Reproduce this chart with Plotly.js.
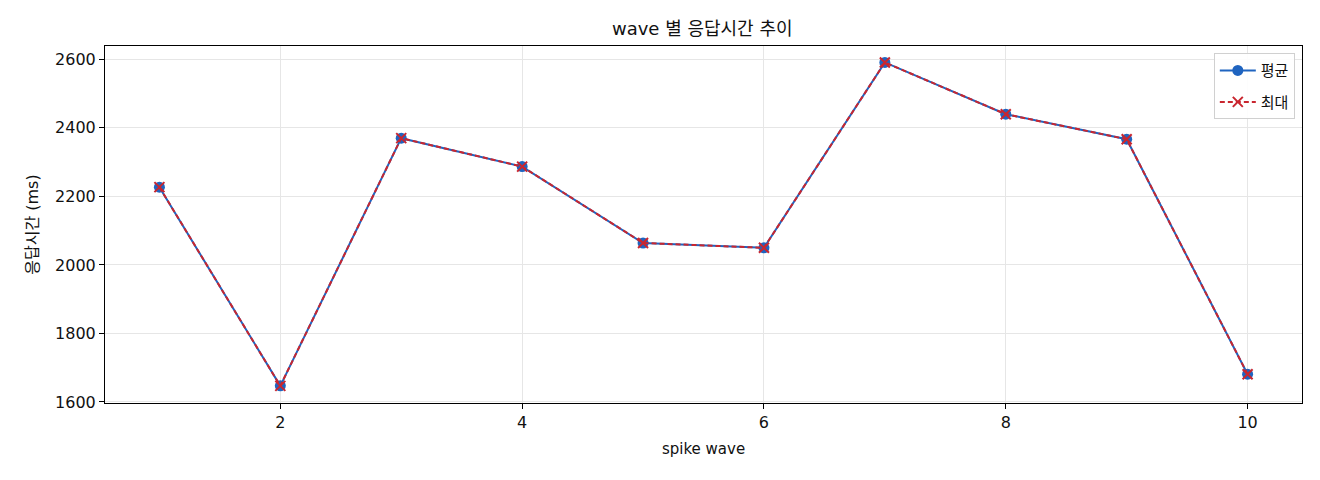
<!DOCTYPE html>
<html>
<head>
<meta charset="utf-8">
<script src="https://cdn.plot.ly/plotly-3.0.1.min.js"></script>
<style>
  html, body { margin: 0; padding: 0; background: #fff; }
  #chart { width: 1320px; height: 480px; }
</style>
</head>
<body>
<div id="chart"></div>
<script>
// spike wave number and response times (ms)
var waves = [1, 2, 3, 4, 5, 6, 7, 8, 9, 10];
var avg_ms = [2227, 1647, 2370, 2287, 2064, 2050, 2591, 2440, 2367, 1681];
var max_ms = [2227, 1647, 2370, 2287, 2064, 2050, 2591, 2440, 2367, 1681];
var series_names = ['평균', '최대'];

var FONT = '"DejaVu Sans", "Noto Sans CJK KR", sans-serif';

var avgTrace = {
	x: waves,
	y: avg_ms,
	name: series_names[0],
	legendgroup: 'avg',
	type: 'scatter',
	mode: 'lines+markers',
	line: {color: '#1f64c0', width: 2},
	marker: {color: '#1f64c0', size: 11, symbol: 'circle'}
};
var maxTrace = {
	x: waves,
	y: max_ms,
	name: series_names[1],
	legendgroup: 'max',
	type: 'scatter',
	mode: 'lines+markers',
	line: {color: '#c9262f', width: 2, dash: '5px,3px'},
	marker: {color: '#c9262f', size: 10, symbol: 'x-thin-open', line: {color: '#c9262f', width: 2}}
};

var layout = {
	width: 1320,
	height: 480,
	margin: {l: 105, r: 18, t: 46, b: 77},
	paper_bgcolor: '#ffffff',
	plot_bgcolor: '#ffffff',
	font: {family: FONT, size: 15, color: '#111'},
	title: {text: 'wave 별 응답시간 추이', font: {size: 18, color: '#111'}, x: 0.532, xanchor: 'center', y: 0.94, yanchor: 'middle'},
	xaxis: {
		title: {text: 'spike wave', font: {size: 15}, standoff: 12},
		range: [0.55, 10.45],
		tick0: 0, dtick: 2,
		tickfont: {size: 16},
		ticks: 'outside', ticklen: 5, tickcolor: '#000',
		showgrid: true, gridcolor: '#e6e6e6', gridwidth: 1,
		showline: true, linecolor: '#000', linewidth: 1, mirror: true,
		zeroline: false
	},
	yaxis: {
		title: {text: '응답시간 (ms)', font: {size: 16}, standoff: 12},
		range: [1597, 2639],
		tick0: 1600, dtick: 200,
		tickfont: {size: 16},
		ticks: 'outside', ticklen: 5, tickcolor: '#000',
		showgrid: true, gridcolor: '#e6e6e6', gridwidth: 1,
		showline: true, linecolor: '#000', linewidth: 1, mirror: true,
		zeroline: false
	},
	legend: {
		x: 0.994, y: 0.98, xanchor: 'right', yanchor: 'top',
		bgcolor: 'rgba(255,255,255,0.9)', bordercolor: '#d0d0d0', borderwidth: 1,
		font: {size: 15}, tracegroupgap: 9, itemwidth: 36
	},
	showlegend: true
};

Plotly.newPlot('chart', [avgTrace, maxTrace], layout, {displayModeBar: false, staticPlot: true});
</script>
</body>
</html>
